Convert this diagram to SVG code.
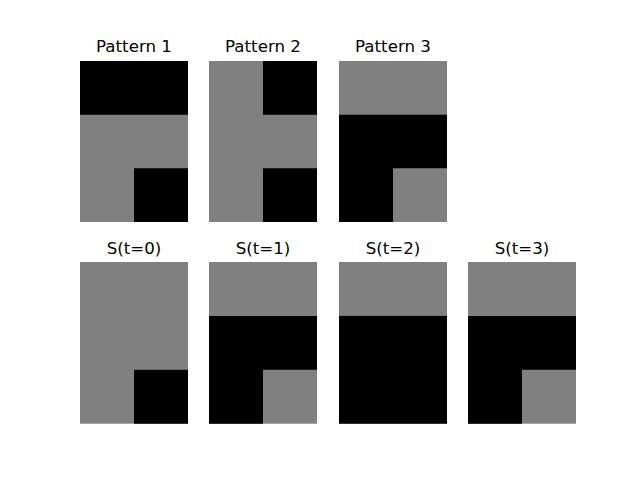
<svg xmlns="http://www.w3.org/2000/svg" width="640" height="480" viewBox="0 0 640 480">
<style>
.g{fill:#808080}
.k{fill:#000000}
text{font-family:"DejaVu Sans",sans-serif;font-size:16.67px;text-anchor:middle;fill:#000}
</style>
<rect width="640" height="480" fill="#fff"/>
<g id="pattern1">
<rect class="g" x="80" y="61" width="108" height="161"/>
<path class="k" d="M80 61H188V114.7H80Z M134 168.3H188V222H134Z"/>
<text x="134" y="52">Pattern 1</text>
</g>
<g id="pattern2">
<rect class="g" x="209" y="61" width="108" height="161"/>
<path class="k" d="M263 61H317V114.7H263Z M263 168.3H317V222H263Z"/>
<text x="263" y="52">Pattern 2</text>
</g>
<g id="pattern3">
<rect class="g" x="339" y="61" width="108" height="161"/>
<path class="k" d="M339 114.7H447V168.3H393V222H339Z"/>
<text x="393" y="52">Pattern 3</text>
</g>
<g id="s0">
<rect class="g" x="80" y="262" width="108" height="161.7"/>
<rect class="k" x="134" y="369.8" width="54" height="53.9"/>
<text x="134" y="254">S(t=0)</text>
</g>
<g id="s1">
<rect class="g" x="209" y="262" width="108" height="161.7"/>
<path class="k" d="M209 315.9H317V369.8H263V423.7H209Z"/>
<text x="263" y="254">S(t=1)</text>
</g>
<g id="s2">
<rect class="g" x="339" y="262" width="108" height="161.7"/>
<rect class="k" x="339" y="315.9" width="108" height="107.8"/>
<text x="393" y="254">S(t=2)</text>
</g>
<g id="s3">
<rect class="g" x="468" y="262" width="108" height="161.7"/>
<path class="k" d="M468 315.9H576V369.8H522V423.7H468Z"/>
<text x="522" y="254">S(t=3)</text>
</g>
<g id="connectors"/>
</svg>
